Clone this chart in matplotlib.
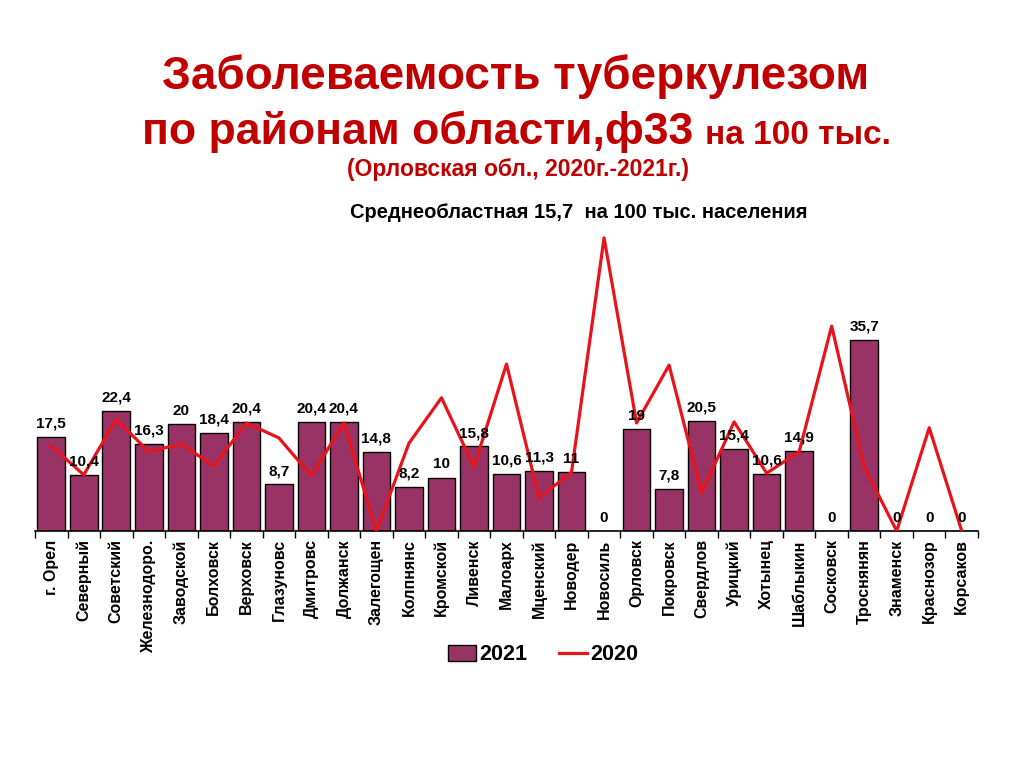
import matplotlib.pyplot as plt
from matplotlib import font_manager

names = {f.name for f in font_manager.fontManager.ttflist}
narrow = 'Liberation Sans Narrow' if 'Liberation Sans Narrow' in names else 'Liberation Sans'
plt.rcParams['font.family'] = ['Liberation Sans', 'DejaVu Sans']

districts = ['г. Орел', 'Северный', 'Советский', 'Железнодоро.', 'Заводской',
             'Болховск', 'Верховск', 'Глазуновс', 'Дмитровс', 'Должанск',
             'Залегощен', 'Колпнянс', 'Кромской', 'Ливенск', 'Малоарх',
             'Мценский', 'Новодер', 'Новосиль', 'Орловск', 'Покровск',
             'Свердлов', 'Урицкий', 'Хотынец', 'Шаблыкин', 'Сосковск',
             'Троснянян', 'Знаменск', 'Краснозор', 'Корсаков']
values_2021 = [17.5, 10.4, 22.4, 16.3, 20, 18.4, 20.4, 8.7, 20.4, 20.4,
               14.8, 8.2, 10, 15.8, 10.6, 11.3, 11, 0, 19, 7.8,
               20.5, 15.4, 10.6, 14.9, 0, 35.7, 0, 0, 0]
values_2020 = [15.9, 10.5, 20.9, 14.8, 16.3, 12.1, 20.2, 17.4, 10.3, 20.2,
               0, 16.4, 24.9, 12.0, 31.2, 6.2, 11.0, 54.8, 20.2, 31.0,
               7.1, 20.4, 10.8, 14.8, 38.3, 12.0, 0, 19.3, 0]

fig = plt.figure(figsize=(10.24, 7.67), dpi=100)
ax = fig.add_axes([35 / 1024, 1 - 531 / 767, 943 / 1024, 60 * 5.35 / 767])

x = range(len(districts))
bars = ax.bar(x, values_2021, width=0.85, color='#993366', edgecolor='black',
              linewidth=1, label='2021', zorder=2)
line, = ax.plot(x, values_2020, color='#E8141B', linewidth=2.3, label='2020',
                zorder=3)

for i, v in enumerate(values_2021):
    txt = str(v).replace('.', ',')
    if txt.endswith(',0'):
        txt = txt[:-2]
    ax.text(i, v + 1.2, txt, ha='center', va='bottom', fontsize=11,
            fontweight='bold', zorder=4)

ax.set_xlim(-0.5, len(districts) - 0.5)
ax.set_ylim(0, 60)
ax.set_xticks([i - 0.5 for i in range(len(districts) + 1)], minor=False)
ax.set_xticklabels([])
ax.set_xticks(list(x), minor=True)
ax.set_xticklabels(districts, minor=True, rotation=90, fontsize=11.5,
                   fontweight='bold', va='top')
ax.tick_params(axis='x', which='major', length=5, width=1, direction='out')
ax.tick_params(axis='x', which='minor', length=0, pad=6)
ax.set_yticks([])
for s in ['top', 'right', 'left']:
    ax.spines[s].set_visible(False)
ax.spines['bottom'].set_linewidth(1.2)

red = '#C00000'
fig.text(0.504, 1 - 89 / 767, 'Заболеваемость туберкулезом', ha='center',
         va='baseline', fontsize=33, fontweight='bold', color=red)
fig.text(693 / 1024, 1 - 144 / 767, 'по районам области,ф33', ha='right',
         va='baseline', fontsize=32, fontweight='bold', color=red)
fig.text(705 / 1024, 1 - 144 / 767, 'на 100 тыс.', ha='left',
         va='baseline', fontsize=24, fontweight='bold', color=red)
fig.text(0.506, 1 - 176 / 767, '(Орловская обл., 2020г.-2021г.)', ha='center',
         va='baseline', fontsize=16.5, fontweight='bold', color=red,
         family=narrow)
fig.text(0.565, 1 - 218 / 767, 'Среднеобластная 15,7  на 100 тыс. населения',
         ha='center', va='baseline', fontsize=14.5, fontweight='bold',
         color='black', family=narrow)

fig.legend(handles=[bars, line], labels=['2021', '2020'], loc='center',
           bbox_to_anchor=(543 / 1024, 1 - 655 / 767), ncol=2, frameon=False,
           prop={'size': 15.5, 'weight': 'bold'}, handlelength=1.3,
           handleheight=0.7, columnspacing=1.5, handletextpad=0.15)

fig.savefig('out.png', dpi=100, facecolor='white')
